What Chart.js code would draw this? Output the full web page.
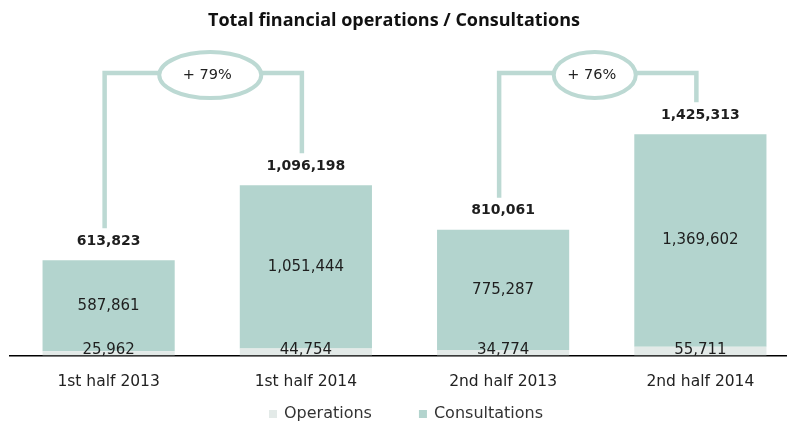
<!DOCTYPE html>
<html>
<head>
<meta charset="utf-8">
<script src="https://cdn.jsdelivr.net/npm/chart.js@4.4.0/dist/chart.umd.min.js"></script>
<style>
  html, body { margin: 0; padding: 0; background: #fff; overflow: hidden; }
  /* the plot runs a few pixels past the right edge of the window */
  #wrap { width: 799px; height: 424px; }
</style>
</head>
<body>
<div id="wrap"><canvas id="canvas"></canvas></div>
<script>
var periods = ['1st half 2013', '1st half 2014', '2nd half 2013', '2nd half 2014'];
var operations = [25962, 44754, 34774, 55711];
var consultations = [587861, 1051444, 775287, 1369602];
var totals = periods.map(function(p, i) { return operations[i] + consultations[i]; });
// each pair compares a half-year with the same half one year later
var growthPairs = [[0, 1], [2, 3]];

var opsColor = '#e3eae8';
var consColor = '#b3d4ce';
var bracketColor = '#bcd9d3';

function fmt(v) { return v.toLocaleString('en-US'); }

var annotate = {
  id: 'annotate',
  afterLayout: function(chart) {
    // keep the title centred on the visible part of the canvas
    chart.titleBlock.left -= 10.5;
    chart.titleBlock.right -= 10.5;
  },
  afterDatasetsDraw: function(chart) {
    var ctx = chart.ctx;
    var opsMeta = chart.getDatasetMeta(0);
    var consMeta = chart.getDatasetMeta(1);
    var y = chart.scales.y;
    ctx.save();
    ctx.textAlign = 'center';
    ctx.textBaseline = 'middle';
    ctx.fillStyle = '#1e1e1e';

    ctx.font = '15px "DejaVu Sans"';
    periods.forEach(function(p, i) {
      var ob = opsMeta.data[i], cb = consMeta.data[i];
      ctx.fillText(fmt(operations[i]), ob.x, ob.base - 5.5);
      ctx.fillText(fmt(consultations[i]), cb.x, (cb.y + cb.base) / 2);
    });

    ctx.font = 'bold 14px "DejaVu Sans"';
    periods.forEach(function(p, i) {
      ctx.fillText(fmt(totals[i]), consMeta.data[i].x, y.getPixelForValue(totals[i]) - 19);
    });

    // growth brackets
    var rx = [51, 41];
    var top = chart.chartArea.top + 32;
    growthPairs.forEach(function(pair, k) {
      var a = pair[0], b = pair[1];
      var xa = consMeta.data[a].x - 4, xb = consMeta.data[b].x - 4;
      var ya = y.getPixelForValue(totals[a]) - 32;
      var yb = y.getPixelForValue(totals[b]) - 32;
      ctx.strokeStyle = bracketColor;
      ctx.lineWidth = 4.5;
      ctx.lineJoin = 'miter';
      ctx.beginPath();
      ctx.moveTo(xa, ya);
      ctx.lineTo(xa, top);
      ctx.lineTo(xb, top);
      ctx.lineTo(xb, yb);
      ctx.stroke();

      var cx = (xa + xb) / 2 + (k === 0 ? 7 : -3), cy = top + 2;
      ctx.beginPath();
      ctx.ellipse(cx, cy, rx[k], 23, 0, 0, Math.PI * 2);
      ctx.fillStyle = '#fff';
      ctx.fill();
      ctx.lineWidth = 4;
      ctx.stroke();

      var pct = Math.round((totals[b] / totals[a] - 1) * 100);
      ctx.fillStyle = '#222';
      ctx.font = '14.5px "DejaVu Sans"';
      ctx.fillText('+ ' + pct + '%', cx - 3, cy);
    });
    ctx.restore();
  },
  afterDraw: function(chart) {
    // legend drawn by hand so the gap between entries can be wide
    var ctx = chart.ctx;
    ctx.save();
    ctx.font = '16px "DejaVu Sans"';
    ctx.textBaseline = 'middle';
    ctx.textAlign = 'left';
    var items = chart.data.datasets.map(function(ds) {
      return { text: ds.label, color: ds.backgroundColor, w: ctx.measureText(ds.label).width };
    });
    var width = items.reduce(function(s, it) { return s + 15 + it.w; }, 0) + 47 * (items.length - 1);
    var x = 406 - width / 2, ly = 414;
    items.forEach(function(it) {
      ctx.fillStyle = it.color;
      ctx.fillRect(x, ly - 4, 8, 8);
      ctx.fillStyle = '#333';
      ctx.fillText(it.text, x + 15, ly);
      x += 15 + it.w + 47;
    });
    ctx.restore();
  }
};

Chart.defaults.font.family = '"DejaVu Sans", sans-serif';

window.onload = function() {
  var ctx = document.getElementById('canvas').getContext('2d');
  window.myBar = new Chart(ctx, {
    type: 'bar',
    data: {
      labels: periods,
      datasets: [{
        label: 'Operations',
        backgroundColor: opsColor,
        data: operations
      }, {
        label: 'Consultations',
        backgroundColor: consColor,
        data: consultations
      }]
    },
    options: {
      responsive: true,
      maintainAspectRatio: false,
      animation: false,
      layout: { padding: { left: 10, right: 0, top: 0, bottom: 16 } },
      datasets: { bar: { categoryPercentage: 1, barPercentage: 0.67 } },
      scales: {
        x: {
          stacked: true,
          grid: { display: false, drawTicks: false },
          border: { display: true, color: '#000', width: 1.5 },
          ticks: { padding: 17, color: '#222', font: { size: 15.5 } }
        },
        y: {
          stacked: true,
          display: false,
          min: 0,
          max: 2025000
        }
      },
      plugins: {
        legend: { display: false },
        tooltip: { enabled: false },
        title: {
          display: true,
          text: 'Total financial operations / Consultations',
          color: '#111',
          font: { family: '"Open Sans"', weight: 'bold', size: 18 },
          padding: { top: 10, bottom: 9.5 }
        }
      }
    },
    plugins: [annotate]
  });
};
</script>
</body>
</html>
